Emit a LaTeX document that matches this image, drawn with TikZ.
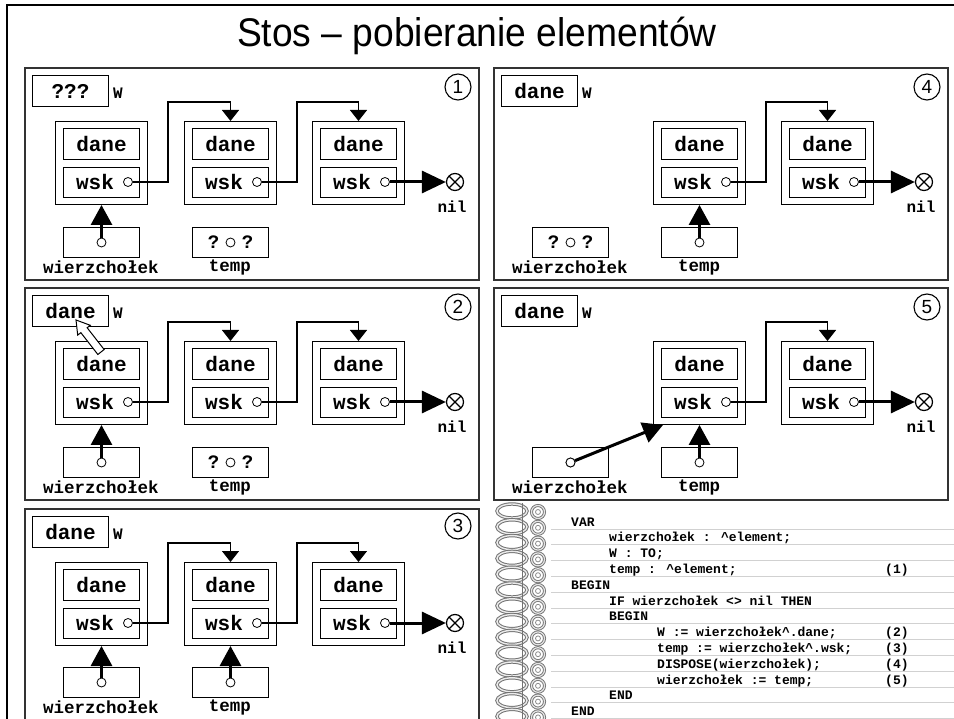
\documentclass[tikz,border=0pt]{standalone}
\usepackage{fontspec}
\setmainfont{Liberation Sans}
\newfontfamily\courfont{Liberation Mono}
\usetikzlibrary{arrows.meta,calc}
\newcommand\boxfont{\courfont\bfseries\fontsize{21}{21}\selectfont}
\newcommand\labfont{\courfont\bfseries\fontsize{17.5}{17.5}\selectfont}
\newcommand\codefont{\courfont\bfseries\fontsize{13}{13}\selectfont}
\tikzset{
  panel/.style={draw=black!80, line width=1.2pt},
  outerbox/.style={draw, line width=1pt, minimum width=92pt, minimum height=83pt, inner sep=0pt, anchor=north west},
  innerbox/.style={draw, line width=1pt, minimum width=76pt, minimum height=31pt, inner sep=0pt, anchor=north west, font=\boxfont},
  ptrbox/.style={draw, line width=1pt, minimum width=76pt, minimum height=30pt, inner sep=0pt, anchor=north west},
  wbox/.style={draw, line width=1pt, minimum width=76pt, minimum height=31pt, inner sep=0pt, anchor=north west, font=\boxfont},
  boxtext/.style={inner sep=0pt, font=\boxfont},
  labtext/.style={inner sep=0pt, font=\labfont},
  wlab/.style={inner sep=0pt, font=\courfont\bfseries\fontsize{16}{16}\selectfont},
  smallc/.style={circle, draw, fill=white, line width=0.8pt, minimum size=9pt, inner sep=0pt},
  numc/.style={circle, draw, line width=1.1pt, minimum size=26pt, inner sep=0pt, font=\fontsize{19}{19}\selectfont},
  nilc/.style={circle, draw, line width=1.2pt, minimum size=17pt, inner sep=0pt,
    path picture={\draw[line width=1.2pt] (path picture bounding box.north west) -- (path picture bounding box.south east)
      (path picture bounding box.north east) -- (path picture bounding box.south west);}},
  conn/.style={line width=1.3pt, -{Triangle[length=11pt,width=17pt]}},
  fatarr/.style={line width=3pt, -{Triangle[length=20pt,width=21pt]}},
  nilarr/.style={line width=3pt, -{Triangle[length=24pt,width=22pt]}},
  code/.style={inner sep=0pt, anchor=base west, font=\codefont},
  rule/.style={draw=black!18, line width=0.8pt}
}
\newcommand\lnode[3]{%
  \node[outerbox] (#1) at (#2,#3) {};
  \node[innerbox] (#1d) at ({#2+8},{#3+7}) {dane};
  \node[innerbox, minimum height=30pt] (#1w) at ({#2+8},{#3+46}) {};
  \node[boxtext] (#1t) at ({#2+40},{#3+61}) {wsk};
  \node[smallc] (#1c) at ({#2+73},{#3+61}) {};
}
\newcommand\pbox[4]{%
  \node[ptrbox] (#1) at (#2,#3) {};
  \node[labtext] (#1l) at ({#2+38},{#3+40}) {#4};
}
\newcommand\qmark[1]{%
  \node[boxtext, font=\courfont\bfseries\fontsize{19}{19}\selectfont] at ($(#1.center)+(-17,0)$) {?};
  \node[boxtext, font=\courfont\bfseries\fontsize{19}{19}\selectfont] at ($(#1.center)+(17,0)$) {?};
  \node[smallc] (#1c) at (#1.center) {};
}
\newcommand\link[2]{%
  \draw[conn] (#1c.east) -- ++(35,0) |- ($(#2.north)+(0,-19)$) -- (#2.north);
}
\begin{document}
\begin{tikzpicture}[x=1pt, y=-1pt]
\useasboundingbox (0,0) rectangle (954,719);
\clip (0,0) rectangle (954,719);
\fill[white] (0,0) rectangle (954,719);
% outer frame
\draw[line width=1.6pt] (7,725) -- (7,5) -- (960,5);
% title
\node[inner sep=0pt, font=\fontsize{40}{40}\selectfont] (title) at (477,36) {\scalebox{0.93}[1]{Stos – pobieranie elementów}};

% ---------- panel 1 ----------
\begin{scope}[shift={(25,68)}]
  \draw[panel] (0,0) rectangle (454,212);
  \node[wbox] (p1W) at (7,7) {???};
  \node[wlab] at (93,25) {W};
  \node[numc] at (433,19) {1};
  \lnode{p1a}{30}{53}
  \lnode{p1b}{159}{53}
  \lnode{p1c}{287}{53}
  \link{p1a}{p1b}
  \link{p1b}{p1c}
  \node[nilc] (p1nil) at (430,114) {};
  \node[wlab] at (427,139) {nil};
  \draw[nilarr] (p1cc.east) -- (p1nil.west);
  \pbox{p1wb}{38}{159}{wierzchołek}
  \node[smallc] (p1wbc) at (p1wb.center) {};
  \draw[fatarr] (p1wbc.north) -- (p1a.south);
  \pbox{p1tb}{167}{159}{temp}
  \qmark{p1tb}
\end{scope}

% ---------- panel 4 ----------
\begin{scope}[shift={(494,68)}]
  \draw[panel] (0,0) rectangle (454,212);
  \node[wbox] (p4W) at (7,7) {dane};
  \node[wlab] at (93,25) {W};
  \node[numc] at (433,19) {4};
  \lnode{p4a}{159}{53}
  \lnode{p4b}{287}{53}
  \link{p4a}{p4b}
  \node[nilc] (p4nil) at (430,114) {};
  \node[wlab] at (427,139) {nil};
  \draw[nilarr] (p4bc.east) -- (p4nil.west);
  \pbox{p4wb}{38}{159}{wierzchołek}
  \qmark{p4wb}
  \pbox{p4tb}{167}{159}{temp}
  \node[smallc] (p4tbc) at (p4tb.center) {};
  \draw[fatarr] (p4tbc.north) -- (p4a.south);
\end{scope}

% ---------- panel 2 ----------
\begin{scope}[shift={(25,288)}]
  \draw[panel] (0,0) rectangle (454,212);
  \node[wbox] (p2W) at (7,7) {dane};
  \node[wlab] at (93,25) {W};
  \node[numc] at (433,19) {2};
  \lnode{p2a}{30}{53}
  \lnode{p2b}{159}{53}
  \lnode{p2c}{287}{53}
  \link{p2a}{p2b}
  \link{p2b}{p2c}
  \node[nilc] (p2nil) at (430,114) {};
  \node[wlab] at (427,139) {nil};
  \draw[nilarr] (p2cc.east) -- (p2nil.west);
  \pbox{p2wb}{38}{159}{wierzchołek}
  \node[smallc] (p2wbc) at (p2wb.center) {};
  \draw[fatarr] (p2wbc.north) -- (p2a.south);
  \pbox{p2tb}{167}{159}{temp}
  \qmark{p2tb}
  % hollow copy arrow
  \draw[line width=1pt, fill=white, line join=miter]
    (79.15,61.54) -- (62.15,39.74) -- (65.3,37.3) -- (51,32) -- (52.7,47.1)
    -- (55.85,44.66) -- (72.85,66.46) -- cycle;
\end{scope}

% ---------- panel 5 ----------
\begin{scope}[shift={(494,288)}]
  \draw[panel] (0,0) rectangle (454,212);
  \node[wbox] (p5W) at (7,7) {dane};
  \node[wlab] at (93,25) {W};
  \node[numc] at (433,19) {5};
  \lnode{p5a}{159}{53}
  \lnode{p5b}{287}{53}
  \link{p5a}{p5b}
  \node[nilc] (p5nil) at (430,114) {};
  \node[wlab] at (427,139) {nil};
  \draw[nilarr] (p5bc.east) -- (p5nil.west);
  \pbox{p5wb}{38}{159}{wierzchołek}
  \node[smallc] (p5wbc) at (p5wb.center) {};
  \coordinate (p5tgt) at ($(p5a.south west)+(10,0)$);
  \draw[fatarr] (p5wbc) -- (p5tgt);
  \node[smallc] at (p5wb.center) {};
  \pbox{p5tb}{167}{159}{temp}
  \node[smallc] (p5tbc) at (p5tb.center) {};
  \draw[fatarr] (p5tbc.north) -- (p5a.south);
\end{scope}

% ---------- panel 3 ----------
\begin{scope}[shift={(25,509)}]
  \draw[panel] (0,0) rectangle (454,230);
  \node[wbox] (p3W) at (7,7) {dane};
  \node[wlab] at (93,25) {W};
  \node[numc] at (433,17) {3};
  \lnode{p3a}{30}{53}
  \lnode{p3b}{159}{53}
  \lnode{p3c}{287}{53}
  \link{p3a}{p3b}
  \link{p3b}{p3c}
  \node[nilc] (p3nil) at (430,114) {};
  \node[wlab] at (427,139) {nil};
  \draw[nilarr] (p3cc.east) -- (p3nil.west);
  \pbox{p3wb}{38}{158}{wierzchołek}
  \node[smallc] (p3wbc) at (p3wb.center) {};
  \draw[fatarr] (p3wbc.north) -- (p3a.south);
  \pbox{p3tb}{167}{158}{temp}
  \node[smallc] (p3tbc) at (p3tb.center) {};
  \draw[fatarr] (p3tbc.north) -- (p3b.south);
\end{scope}

% ---------- code area ----------
\foreach \i in {0,...,12} {
  \pgfmathsetmacro\yy{526+15.8*\i+3}
  \draw[rule] (551,\yy) -- (960,\yy);
}
\foreach \i in {0,...,13} {
  \pgfmathsetmacro\yy{511+15.8*\i}
  \draw[black!55, line width=3.4pt] (512,\yy) ellipse [x radius=15, y radius=7];
  \draw[black!8, line width=1.4pt] (512,\yy) ellipse [x radius=15, y radius=7];
  \draw[black!55, line width=1pt] (522,\yy-8) -- (522,\yy+8);
  \draw[black!55, line width=3pt] (538,\yy+1) circle [radius=6.5];
  \draw[black!10, line width=1.2pt] (538,\yy+1) circle [radius=6.5];
  \draw[black!45, line width=0.8pt] (538,\yy+1) circle [radius=2.5];
}
\node[code] (c0) at (571,526) {VAR};
\node[code] (c1) at (609,541.8) {wierzchołek : \textasciicircum element;};
\node[code] (c2) at (609,557.6) {W : TO;};
\node[code] (c3) at (609,573.4) {temp : \textasciicircum element;};
\node[code] (n1) at (885,573.4) {(1)};
\node[code] (c4) at (571,589.2) {BEGIN};
\node[code] (c5) at (609,605) {IF wierzchołek <> nil THEN};
\node[code] (c6) at (609,620.8) {BEGIN};
\node[code] (c7) at (657,636.6) {W := wierzchołek\textasciicircum.dane;};
\node[code] (n2) at (885,636.6) {(2)};
\node[code] (c8) at (657,652.4) {temp := wierzchołek\textasciicircum.wsk;};
\node[code] (n3) at (885,652.4) {(3)};
\node[code] (c9) at (657,668.2) {DISPOSE(wierzchołek);};
\node[code] (n4) at (885,668.2) {(4)};
\node[code] (c10) at (657,684) {wierzchołek := temp;};
\node[code] (n5) at (885,684) {(5)};
\node[code] (c11) at (609,699.8) {END};
\node[code] (c12) at (571,715.6) {END};
\end{tikzpicture}
\end{document}
